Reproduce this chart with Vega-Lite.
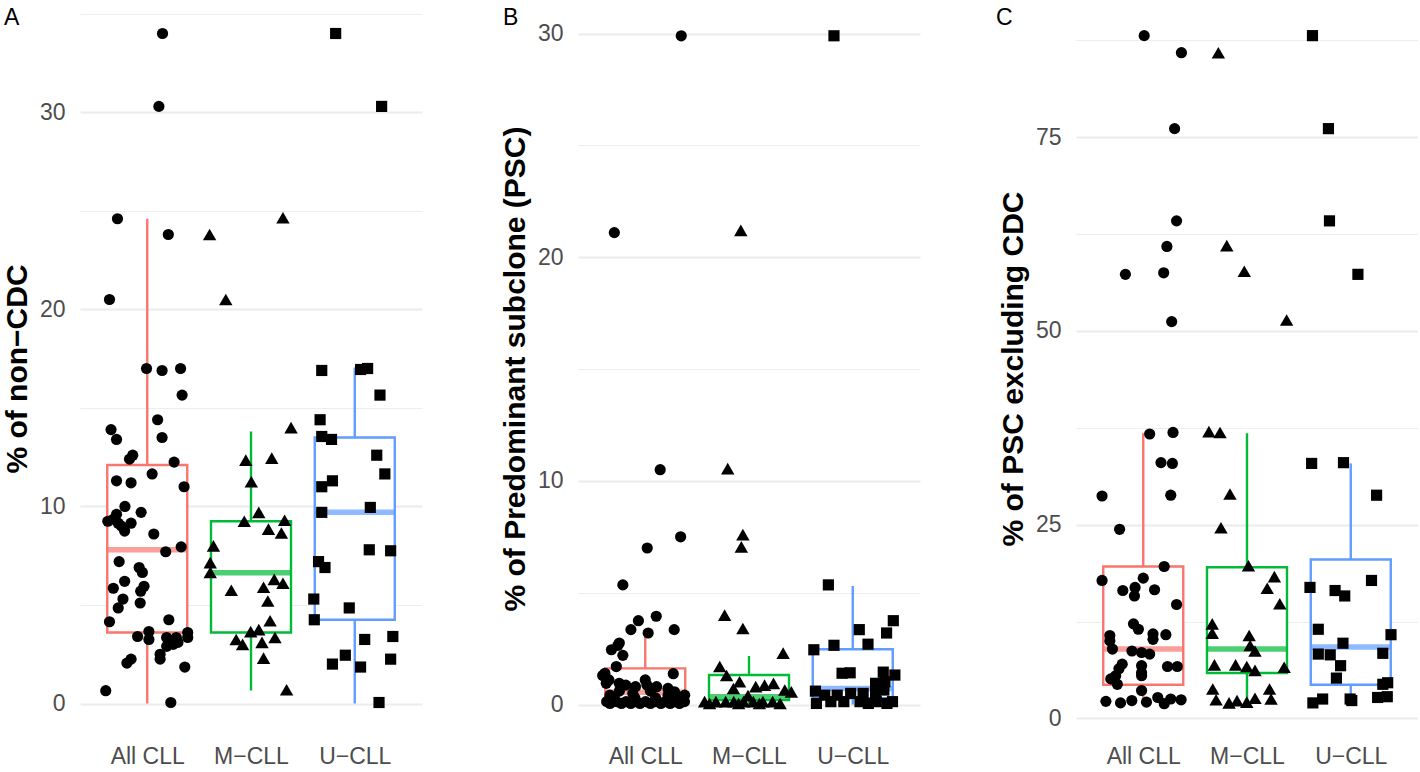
{
  "$schema": "https://vega.github.io/schema/vega-lite/v6.json",
  "padding": {"left": 2, "top": 0, "right": 0, "bottom": 0},
  "background": "white",
  "spacing": 156,
  "bounds": "flush",
  "datasets": {
    "box": [
      {"p": "A", "g": "All CLL", "x": 1, "lo": 0, "q1": 3.6, "med": 7.8, "q3": 12.1, "hi": 24.6},
      {"p": "A", "g": "M-CLL", "x": 2, "lo": 0.66, "q1": 3.6, "med": 6.63, "q3": 9.25, "hi": 13.8},
      {"p": "A", "g": "U-CLL", "x": 3, "lo": 0, "q1": 4.25, "med": 9.7, "q3": 13.5, "hi": 17.05},
      {"p": "B", "g": "All CLL", "x": 1, "lo": 0, "q1": 0.22, "med": 0.55, "q3": 1.62, "hi": 3.33},
      {"p": "B", "g": "M-CLL", "x": 2, "lo": 0, "q1": 0.2, "med": 0.35, "q3": 1.32, "hi": 2.17},
      {"p": "B", "g": "U-CLL", "x": 3, "lo": 0, "q1": 0.28, "med": 0.72, "q3": 2.47, "hi": 5.3},
      {"p": "C", "g": "All CLL", "x": 1, "lo": 1.86, "q1": 4.35, "med": 8.95, "q3": 19.6, "hi": 36.8},
      {"p": "C", "g": "M-CLL", "x": 2, "lo": 1.86, "q1": 5.86, "med": 8.95, "q3": 19.5, "hi": 36.8},
      {"p": "C", "g": "U-CLL", "x": 3, "lo": 2.07, "q1": 4.35, "med": 9.2, "q3": 20.5, "hi": 32.9}
    ],
    "pts": [
      {"p": "A", "g": "All CLL", "x": 1.147, "y": 34.0},
      {"p": "A", "g": "All CLL", "x": 1.112, "y": 30.3},
      {"p": "A", "g": "All CLL", "x": 0.713, "y": 24.6},
      {"p": "A", "g": "All CLL", "x": 1.203, "y": 23.8},
      {"p": "A", "g": "All CLL", "x": 0.636, "y": 20.5},
      {"p": "A", "g": "All CLL", "x": 0.993, "y": 17.0},
      {"p": "A", "g": "All CLL", "x": 1.143, "y": 16.9},
      {"p": "A", "g": "All CLL", "x": 1.321, "y": 17.0},
      {"p": "A", "g": "All CLL", "x": 1.336, "y": 15.65},
      {"p": "A", "g": "All CLL", "x": 1.1, "y": 14.4},
      {"p": "A", "g": "All CLL", "x": 0.651, "y": 13.9},
      {"p": "A", "g": "All CLL", "x": 0.704, "y": 13.4},
      {"p": "A", "g": "All CLL", "x": 1.143, "y": 13.5},
      {"p": "A", "g": "All CLL", "x": 0.86, "y": 12.6},
      {"p": "A", "g": "All CLL", "x": 0.829, "y": 12.4},
      {"p": "A", "g": "All CLL", "x": 1.259, "y": 12.25},
      {"p": "A", "g": "All CLL", "x": 1.047, "y": 11.65},
      {"p": "A", "g": "All CLL", "x": 0.704, "y": 11.3},
      {"p": "A", "g": "All CLL", "x": 0.844, "y": 11.2},
      {"p": "A", "g": "All CLL", "x": 1.355, "y": 11.0},
      {"p": "A", "g": "All CLL", "x": 0.785, "y": 10.0},
      {"p": "A", "g": "All CLL", "x": 0.941, "y": 9.7},
      {"p": "A", "g": "All CLL", "x": 0.704, "y": 9.6},
      {"p": "A", "g": "All CLL", "x": 0.62, "y": 9.25},
      {"p": "A", "g": "All CLL", "x": 0.673, "y": 9.35},
      {"p": "A", "g": "All CLL", "x": 0.72, "y": 9.15},
      {"p": "A", "g": "All CLL", "x": 0.751, "y": 9.0},
      {"p": "A", "g": "All CLL", "x": 0.844, "y": 9.15},
      {"p": "A", "g": "All CLL", "x": 0.782, "y": 8.75},
      {"p": "A", "g": "All CLL", "x": 1.063, "y": 8.6},
      {"p": "A", "g": "All CLL", "x": 1.327, "y": 7.95},
      {"p": "A", "g": "All CLL", "x": 1.178, "y": 7.7},
      {"p": "A", "g": "All CLL", "x": 0.729, "y": 7.2},
      {"p": "A", "g": "All CLL", "x": 0.922, "y": 6.9},
      {"p": "A", "g": "All CLL", "x": 0.953, "y": 6.65},
      {"p": "A", "g": "All CLL", "x": 0.782, "y": 6.2},
      {"p": "A", "g": "All CLL", "x": 0.673, "y": 5.85},
      {"p": "A", "g": "All CLL", "x": 0.969, "y": 5.95},
      {"p": "A", "g": "All CLL", "x": 0.937, "y": 5.7},
      {"p": "A", "g": "All CLL", "x": 0.766, "y": 5.3},
      {"p": "A", "g": "All CLL", "x": 0.72, "y": 4.85},
      {"p": "A", "g": "All CLL", "x": 0.932, "y": 5.1},
      {"p": "A", "g": "All CLL", "x": 0.636, "y": 4.15},
      {"p": "A", "g": "All CLL", "x": 1.208, "y": 4.25},
      {"p": "A", "g": "All CLL", "x": 1.016, "y": 3.65},
      {"p": "A", "g": "All CLL", "x": 0.907, "y": 3.4},
      {"p": "A", "g": "All CLL", "x": 1.016, "y": 3.25},
      {"p": "A", "g": "All CLL", "x": 1.187, "y": 3.35},
      {"p": "A", "g": "All CLL", "x": 1.39, "y": 3.6},
      {"p": "A", "g": "All CLL", "x": 1.28, "y": 3.35},
      {"p": "A", "g": "All CLL", "x": 1.39, "y": 3.35},
      {"p": "A", "g": "All CLL", "x": 1.187, "y": 2.9},
      {"p": "A", "g": "All CLL", "x": 1.25, "y": 3.0},
      {"p": "A", "g": "All CLL", "x": 1.296, "y": 3.1},
      {"p": "A", "g": "All CLL", "x": 1.124, "y": 2.5},
      {"p": "A", "g": "All CLL", "x": 1.124, "y": 2.25},
      {"p": "A", "g": "All CLL", "x": 0.844, "y": 2.25},
      {"p": "A", "g": "All CLL", "x": 0.804, "y": 2.05},
      {"p": "A", "g": "All CLL", "x": 1.362, "y": 1.85},
      {"p": "A", "g": "All CLL", "x": 0.6, "y": 0.65},
      {"p": "A", "g": "All CLL", "x": 1.227, "y": 0.05},
      {"p": "A", "g": "M-CLL", "x": 1.601, "y": 23.8},
      {"p": "A", "g": "M-CLL", "x": 2.308, "y": 24.65},
      {"p": "A", "g": "M-CLL", "x": 1.757, "y": 20.5},
      {"p": "A", "g": "M-CLL", "x": 2.386, "y": 14.0},
      {"p": "A", "g": "M-CLL", "x": 1.95, "y": 12.35},
      {"p": "A", "g": "M-CLL", "x": 2.2, "y": 12.45},
      {"p": "A", "g": "M-CLL", "x": 2.003, "y": 11.25},
      {"p": "A", "g": "M-CLL", "x": 1.935, "y": 9.25},
      {"p": "A", "g": "M-CLL", "x": 2.075, "y": 9.7},
      {"p": "A", "g": "M-CLL", "x": 2.324, "y": 9.3},
      {"p": "A", "g": "M-CLL", "x": 2.168, "y": 8.85},
      {"p": "A", "g": "M-CLL", "x": 2.293, "y": 8.65},
      {"p": "A", "g": "M-CLL", "x": 1.638, "y": 8.0},
      {"p": "A", "g": "M-CLL", "x": 1.607, "y": 7.15},
      {"p": "A", "g": "M-CLL", "x": 1.607, "y": 6.65},
      {"p": "A", "g": "M-CLL", "x": 2.224, "y": 6.3},
      {"p": "A", "g": "M-CLL", "x": 2.308, "y": 6.1},
      {"p": "A", "g": "M-CLL", "x": 2.121, "y": 5.9},
      {"p": "A", "g": "M-CLL", "x": 1.81, "y": 5.75},
      {"p": "A", "g": "M-CLL", "x": 2.162, "y": 5.2},
      {"p": "A", "g": "M-CLL", "x": 2.184, "y": 4.2},
      {"p": "A", "g": "M-CLL", "x": 1.997, "y": 3.65},
      {"p": "A", "g": "M-CLL", "x": 2.075, "y": 3.75},
      {"p": "A", "g": "M-CLL", "x": 1.857, "y": 3.25},
      {"p": "A", "g": "M-CLL", "x": 1.919, "y": 3.0},
      {"p": "A", "g": "M-CLL", "x": 2.106, "y": 3.1},
      {"p": "A", "g": "M-CLL", "x": 2.231, "y": 3.35},
      {"p": "A", "g": "M-CLL", "x": 2.121, "y": 2.3},
      {"p": "A", "g": "M-CLL", "x": 2.343, "y": 0.7},
      {"p": "A", "g": "U-CLL", "x": 2.816, "y": 34.0},
      {"p": "A", "g": "U-CLL", "x": 3.259, "y": 30.3},
      {"p": "A", "g": "U-CLL", "x": 2.682, "y": 16.9},
      {"p": "A", "g": "U-CLL", "x": 3.056, "y": 16.95},
      {"p": "A", "g": "U-CLL", "x": 3.124, "y": 17.0},
      {"p": "A", "g": "U-CLL", "x": 3.243, "y": 15.65},
      {"p": "A", "g": "U-CLL", "x": 2.666, "y": 14.4},
      {"p": "A", "g": "U-CLL", "x": 2.682, "y": 13.55},
      {"p": "A", "g": "U-CLL", "x": 2.776, "y": 13.4},
      {"p": "A", "g": "U-CLL", "x": 3.212, "y": 12.6},
      {"p": "A", "g": "U-CLL", "x": 3.29, "y": 11.65},
      {"p": "A", "g": "U-CLL", "x": 2.785, "y": 11.3},
      {"p": "A", "g": "U-CLL", "x": 2.682, "y": 11.0},
      {"p": "A", "g": "U-CLL", "x": 3.15, "y": 9.95},
      {"p": "A", "g": "U-CLL", "x": 2.682, "y": 9.7},
      {"p": "A", "g": "U-CLL", "x": 3.14, "y": 7.8},
      {"p": "A", "g": "U-CLL", "x": 3.346, "y": 7.75},
      {"p": "A", "g": "U-CLL", "x": 2.651, "y": 7.2},
      {"p": "A", "g": "U-CLL", "x": 2.713, "y": 6.9},
      {"p": "A", "g": "U-CLL", "x": 2.605, "y": 5.3},
      {"p": "A", "g": "U-CLL", "x": 2.947, "y": 4.85},
      {"p": "A", "g": "U-CLL", "x": 2.61, "y": 4.25},
      {"p": "A", "g": "U-CLL", "x": 3.096, "y": 3.25},
      {"p": "A", "g": "U-CLL", "x": 3.367, "y": 3.4},
      {"p": "A", "g": "U-CLL", "x": 2.909, "y": 2.45},
      {"p": "A", "g": "U-CLL", "x": 2.785, "y": 2.0},
      {"p": "A", "g": "U-CLL", "x": 3.056, "y": 1.85},
      {"p": "A", "g": "U-CLL", "x": 3.346, "y": 2.25},
      {"p": "A", "g": "U-CLL", "x": 3.234, "y": 0.05},
      {"p": "B", "g": "All CLL", "x": 1.347, "y": 29.9},
      {"p": "B", "g": "All CLL", "x": 0.702, "y": 21.1},
      {"p": "B", "g": "All CLL", "x": 1.144, "y": 10.5},
      {"p": "B", "g": "All CLL", "x": 1.341, "y": 7.5},
      {"p": "B", "g": "All CLL", "x": 1.019, "y": 7.0},
      {"p": "B", "g": "All CLL", "x": 0.784, "y": 5.35},
      {"p": "B", "g": "All CLL", "x": 0.934, "y": 3.75},
      {"p": "B", "g": "All CLL", "x": 0.862, "y": 3.35},
      {"p": "B", "g": "All CLL", "x": 1.106, "y": 3.95},
      {"p": "B", "g": "All CLL", "x": 1.028, "y": 3.2},
      {"p": "B", "g": "All CLL", "x": 1.279, "y": 3.35},
      {"p": "B", "g": "All CLL", "x": 0.737, "y": 2.65},
      {"p": "B", "g": "All CLL", "x": 0.674, "y": 2.45},
      {"p": "B", "g": "All CLL", "x": 0.784, "y": 2.2},
      {"p": "B", "g": "All CLL", "x": 0.75, "y": 2.75},
      {"p": "B", "g": "All CLL", "x": 0.721, "y": 1.7},
      {"p": "B", "g": "All CLL", "x": 0.611, "y": 1.4},
      {"p": "B", "g": "All CLL", "x": 1.27, "y": 1.38},
      {"p": "B", "g": "All CLL", "x": 0.59, "y": 1.3},
      {"p": "B", "g": "All CLL", "x": 0.624, "y": 0.95},
      {"p": "B", "g": "All CLL", "x": 0.749, "y": 0.95},
      {"p": "B", "g": "All CLL", "x": 0.812, "y": 0.87},
      {"p": "B", "g": "All CLL", "x": 0.906, "y": 0.8},
      {"p": "B", "g": "All CLL", "x": 1.016, "y": 0.87},
      {"p": "B", "g": "All CLL", "x": 1.11, "y": 0.8},
      {"p": "B", "g": "All CLL", "x": 1.219, "y": 0.72},
      {"p": "B", "g": "All CLL", "x": 1.282, "y": 0.57},
      {"p": "B", "g": "All CLL", "x": 0.628, "y": 0.13},
      {"p": "B", "g": "All CLL", "x": 0.722, "y": 0.13},
      {"p": "B", "g": "All CLL", "x": 0.815, "y": 0.13},
      {"p": "B", "g": "All CLL", "x": 0.909, "y": 0.13},
      {"p": "B", "g": "All CLL", "x": 1.003, "y": 0.13},
      {"p": "B", "g": "All CLL", "x": 1.097, "y": 0.13},
      {"p": "B", "g": "All CLL", "x": 1.191, "y": 0.13},
      {"p": "B", "g": "All CLL", "x": 1.285, "y": 0.13},
      {"p": "B", "g": "All CLL", "x": 1.378, "y": 0.13},
      {"p": "B", "g": "All CLL", "x": 0.66, "y": 0.42},
      {"p": "B", "g": "All CLL", "x": 1.22, "y": 0.42},
      {"p": "B", "g": "All CLL", "x": 1.38, "y": 0.42},
      {"p": "B", "g": "All CLL", "x": 0.66, "y": 0.05},
      {"p": "B", "g": "All CLL", "x": 0.77, "y": 0.05},
      {"p": "B", "g": "All CLL", "x": 0.86, "y": 0.05},
      {"p": "B", "g": "All CLL", "x": 0.95, "y": 0.05},
      {"p": "B", "g": "All CLL", "x": 1.05, "y": 0.05},
      {"p": "B", "g": "All CLL", "x": 1.15, "y": 0.05},
      {"p": "B", "g": "All CLL", "x": 1.24, "y": 0.05},
      {"p": "B", "g": "All CLL", "x": 1.33, "y": 0.05},
      {"p": "B", "g": "All CLL", "x": 0.7, "y": 0.3},
      {"p": "B", "g": "All CLL", "x": 0.9, "y": 0.3},
      {"p": "B", "g": "All CLL", "x": 1.1, "y": 0.3},
      {"p": "B", "g": "All CLL", "x": 1.3, "y": 0.3},
      {"p": "B", "g": "All CLL", "x": 0.65, "y": 1.1},
      {"p": "B", "g": "All CLL", "x": 1.0, "y": 1.1},
      {"p": "B", "g": "All CLL", "x": 0.75, "y": 0.6},
      {"p": "B", "g": "All CLL", "x": 1.05, "y": 0.6},
      {"p": "B", "g": "All CLL", "x": 0.88, "y": 0.5},
      {"p": "B", "g": "M-CLL", "x": 1.921, "y": 21.2},
      {"p": "B", "g": "M-CLL", "x": 1.795, "y": 10.55},
      {"p": "B", "g": "M-CLL", "x": 1.941, "y": 7.6},
      {"p": "B", "g": "M-CLL", "x": 1.926, "y": 7.05},
      {"p": "B", "g": "M-CLL", "x": 1.765, "y": 4.0},
      {"p": "B", "g": "M-CLL", "x": 1.941, "y": 3.4},
      {"p": "B", "g": "M-CLL", "x": 2.329, "y": 2.3},
      {"p": "B", "g": "M-CLL", "x": 1.718, "y": 1.7},
      {"p": "B", "g": "M-CLL", "x": 1.784, "y": 1.3},
      {"p": "B", "g": "M-CLL", "x": 1.909, "y": 1.02},
      {"p": "B", "g": "M-CLL", "x": 2.065, "y": 0.8},
      {"p": "B", "g": "M-CLL", "x": 2.236, "y": 0.95},
      {"p": "B", "g": "M-CLL", "x": 2.345, "y": 0.65},
      {"p": "B", "g": "M-CLL", "x": 2.408, "y": 0.57},
      {"p": "B", "g": "M-CLL", "x": 1.85, "y": 0.72},
      {"p": "B", "g": "M-CLL", "x": 2.15, "y": 0.87},
      {"p": "B", "g": "M-CLL", "x": 1.572, "y": 0.13},
      {"p": "B", "g": "M-CLL", "x": 1.681, "y": 0.13},
      {"p": "B", "g": "M-CLL", "x": 1.775, "y": 0.13},
      {"p": "B", "g": "M-CLL", "x": 1.853, "y": 0.13},
      {"p": "B", "g": "M-CLL", "x": 1.947, "y": 0.13},
      {"p": "B", "g": "M-CLL", "x": 2.041, "y": 0.13},
      {"p": "B", "g": "M-CLL", "x": 2.134, "y": 0.13},
      {"p": "B", "g": "M-CLL", "x": 2.228, "y": 0.13},
      {"p": "B", "g": "M-CLL", "x": 1.62, "y": 0.05},
      {"p": "B", "g": "M-CLL", "x": 1.9, "y": 0.05},
      {"p": "B", "g": "M-CLL", "x": 2.1, "y": 0.05},
      {"p": "B", "g": "M-CLL", "x": 2.3, "y": 0.05},
      {"p": "B", "g": "M-CLL", "x": 1.99, "y": 0.4},
      {"p": "B", "g": "U-CLL", "x": 2.819, "y": 29.9},
      {"p": "B", "g": "U-CLL", "x": 2.765, "y": 5.35},
      {"p": "B", "g": "U-CLL", "x": 3.391, "y": 3.75},
      {"p": "B", "g": "U-CLL", "x": 3.063, "y": 3.35},
      {"p": "B", "g": "U-CLL", "x": 3.326, "y": 3.2},
      {"p": "B", "g": "U-CLL", "x": 3.147, "y": 2.7},
      {"p": "B", "g": "U-CLL", "x": 2.625, "y": 2.45},
      {"p": "B", "g": "U-CLL", "x": 2.819, "y": 2.65},
      {"p": "B", "g": "U-CLL", "x": 2.897, "y": 1.4},
      {"p": "B", "g": "U-CLL", "x": 2.975, "y": 1.42},
      {"p": "B", "g": "U-CLL", "x": 3.294, "y": 1.45},
      {"p": "B", "g": "U-CLL", "x": 3.406, "y": 1.32},
      {"p": "B", "g": "U-CLL", "x": 3.22, "y": 0.95},
      {"p": "B", "g": "U-CLL", "x": 3.31, "y": 1.02},
      {"p": "B", "g": "U-CLL", "x": 2.64, "y": 0.6},
      {"p": "B", "g": "U-CLL", "x": 2.73, "y": 0.42},
      {"p": "B", "g": "U-CLL", "x": 2.85, "y": 0.42},
      {"p": "B", "g": "U-CLL", "x": 2.98, "y": 0.5},
      {"p": "B", "g": "U-CLL", "x": 3.1, "y": 0.5},
      {"p": "B", "g": "U-CLL", "x": 3.22, "y": 0.5},
      {"p": "B", "g": "U-CLL", "x": 3.3, "y": 0.65},
      {"p": "B", "g": "U-CLL", "x": 2.789, "y": 0.13},
      {"p": "B", "g": "U-CLL", "x": 2.914, "y": 0.13},
      {"p": "B", "g": "U-CLL", "x": 3.07, "y": 0.13},
      {"p": "B", "g": "U-CLL", "x": 3.227, "y": 0.13},
      {"p": "B", "g": "U-CLL", "x": 3.383, "y": 0.13},
      {"p": "B", "g": "U-CLL", "x": 2.65, "y": 0.05},
      {"p": "B", "g": "U-CLL", "x": 3.15, "y": 0.05},
      {"p": "B", "g": "U-CLL", "x": 3.33, "y": 0.05},
      {"p": "C", "g": "All CLL", "x": 1.009, "y": 88.1},
      {"p": "C", "g": "All CLL", "x": 1.368, "y": 85.9},
      {"p": "C", "g": "All CLL", "x": 1.302, "y": 76.1},
      {"p": "C", "g": "All CLL", "x": 1.321, "y": 64.2},
      {"p": "C", "g": "All CLL", "x": 1.228, "y": 60.9},
      {"p": "C", "g": "All CLL", "x": 0.828, "y": 57.3},
      {"p": "C", "g": "All CLL", "x": 1.197, "y": 57.5},
      {"p": "C", "g": "All CLL", "x": 1.274, "y": 51.2},
      {"p": "C", "g": "All CLL", "x": 1.062, "y": 36.7},
      {"p": "C", "g": "All CLL", "x": 1.287, "y": 36.9},
      {"p": "C", "g": "All CLL", "x": 1.171, "y": 33.0},
      {"p": "C", "g": "All CLL", "x": 1.281, "y": 32.9},
      {"p": "C", "g": "All CLL", "x": 0.603, "y": 28.7},
      {"p": "C", "g": "All CLL", "x": 1.265, "y": 28.8},
      {"p": "C", "g": "All CLL", "x": 0.772, "y": 24.4},
      {"p": "C", "g": "All CLL", "x": 1.202, "y": 19.6},
      {"p": "C", "g": "All CLL", "x": 0.603, "y": 17.8},
      {"p": "C", "g": "All CLL", "x": 1.0, "y": 18.1},
      {"p": "C", "g": "All CLL", "x": 0.803, "y": 16.5},
      {"p": "C", "g": "All CLL", "x": 0.921, "y": 16.9},
      {"p": "C", "g": "All CLL", "x": 0.915, "y": 15.8},
      {"p": "C", "g": "All CLL", "x": 1.109, "y": 16.6},
      {"p": "C", "g": "All CLL", "x": 1.321, "y": 14.7},
      {"p": "C", "g": "All CLL", "x": 0.906, "y": 12.2},
      {"p": "C", "g": "All CLL", "x": 0.953, "y": 11.5},
      {"p": "C", "g": "All CLL", "x": 0.678, "y": 10.7},
      {"p": "C", "g": "All CLL", "x": 0.678, "y": 10.0},
      {"p": "C", "g": "All CLL", "x": 1.094, "y": 10.9},
      {"p": "C", "g": "All CLL", "x": 1.094, "y": 10.2},
      {"p": "C", "g": "All CLL", "x": 1.218, "y": 10.8},
      {"p": "C", "g": "All CLL", "x": 0.703, "y": 8.95},
      {"p": "C", "g": "All CLL", "x": 0.891, "y": 8.7},
      {"p": "C", "g": "All CLL", "x": 0.984, "y": 8.5},
      {"p": "C", "g": "All CLL", "x": 1.062, "y": 8.3},
      {"p": "C", "g": "All CLL", "x": 0.797, "y": 7.0},
      {"p": "C", "g": "All CLL", "x": 0.766, "y": 6.4},
      {"p": "C", "g": "All CLL", "x": 0.734, "y": 5.5},
      {"p": "C", "g": "All CLL", "x": 0.687, "y": 5.1},
      {"p": "C", "g": "All CLL", "x": 0.984, "y": 6.8},
      {"p": "C", "g": "All CLL", "x": 0.984, "y": 5.9},
      {"p": "C", "g": "All CLL", "x": 0.984, "y": 5.5},
      {"p": "C", "g": "All CLL", "x": 1.234, "y": 6.7},
      {"p": "C", "g": "All CLL", "x": 1.328, "y": 6.7},
      {"p": "C", "g": "All CLL", "x": 0.75, "y": 4.4},
      {"p": "C", "g": "All CLL", "x": 0.984, "y": 3.6},
      {"p": "C", "g": "All CLL", "x": 0.64, "y": 2.2},
      {"p": "C", "g": "All CLL", "x": 0.781, "y": 2.0},
      {"p": "C", "g": "All CLL", "x": 0.89, "y": 2.3},
      {"p": "C", "g": "All CLL", "x": 1.031, "y": 2.1},
      {"p": "C", "g": "All CLL", "x": 1.14, "y": 2.7},
      {"p": "C", "g": "All CLL", "x": 1.202, "y": 1.9},
      {"p": "C", "g": "All CLL", "x": 1.265, "y": 2.5},
      {"p": "C", "g": "All CLL", "x": 1.365, "y": 2.4},
      {"p": "C", "g": "M-CLL", "x": 1.724, "y": 85.9},
      {"p": "C", "g": "M-CLL", "x": 1.805, "y": 61.0},
      {"p": "C", "g": "M-CLL", "x": 1.974, "y": 57.7},
      {"p": "C", "g": "M-CLL", "x": 2.382, "y": 51.4},
      {"p": "C", "g": "M-CLL", "x": 1.633, "y": 37.0},
      {"p": "C", "g": "M-CLL", "x": 1.74, "y": 36.9},
      {"p": "C", "g": "M-CLL", "x": 1.836, "y": 28.95},
      {"p": "C", "g": "M-CLL", "x": 1.749, "y": 24.6},
      {"p": "C", "g": "M-CLL", "x": 2.014, "y": 19.7},
      {"p": "C", "g": "M-CLL", "x": 2.264, "y": 18.3},
      {"p": "C", "g": "M-CLL", "x": 2.195, "y": 16.8},
      {"p": "C", "g": "M-CLL", "x": 2.316, "y": 14.8},
      {"p": "C", "g": "M-CLL", "x": 1.665, "y": 12.2},
      {"p": "C", "g": "M-CLL", "x": 1.665, "y": 11.0},
      {"p": "C", "g": "M-CLL", "x": 2.021, "y": 10.7},
      {"p": "C", "g": "M-CLL", "x": 2.03, "y": 9.4},
      {"p": "C", "g": "M-CLL", "x": 2.077, "y": 8.7},
      {"p": "C", "g": "M-CLL", "x": 1.686, "y": 6.9},
      {"p": "C", "g": "M-CLL", "x": 1.89, "y": 6.9},
      {"p": "C", "g": "M-CLL", "x": 1.998, "y": 6.7},
      {"p": "C", "g": "M-CLL", "x": 2.077, "y": 6.2},
      {"p": "C", "g": "M-CLL", "x": 2.358, "y": 6.6},
      {"p": "C", "g": "M-CLL", "x": 1.67, "y": 3.8},
      {"p": "C", "g": "M-CLL", "x": 2.217, "y": 3.8},
      {"p": "C", "g": "M-CLL", "x": 1.702, "y": 2.4},
      {"p": "C", "g": "M-CLL", "x": 1.827, "y": 2.0},
      {"p": "C", "g": "M-CLL", "x": 1.904, "y": 2.3},
      {"p": "C", "g": "M-CLL", "x": 1.998, "y": 2.1},
      {"p": "C", "g": "M-CLL", "x": 2.077, "y": 2.6},
      {"p": "C", "g": "M-CLL", "x": 2.232, "y": 2.5},
      {"p": "C", "g": "U-CLL", "x": 2.631, "y": 88.1},
      {"p": "C", "g": "U-CLL", "x": 2.785, "y": 76.1},
      {"p": "C", "g": "U-CLL", "x": 2.795, "y": 64.2},
      {"p": "C", "g": "U-CLL", "x": 3.069, "y": 57.3},
      {"p": "C", "g": "U-CLL", "x": 2.623, "y": 32.9},
      {"p": "C", "g": "U-CLL", "x": 2.93, "y": 33.0},
      {"p": "C", "g": "U-CLL", "x": 3.249, "y": 28.8},
      {"p": "C", "g": "U-CLL", "x": 2.607, "y": 16.9},
      {"p": "C", "g": "U-CLL", "x": 3.2, "y": 17.8},
      {"p": "C", "g": "U-CLL", "x": 2.849, "y": 16.5},
      {"p": "C", "g": "U-CLL", "x": 2.942, "y": 15.8},
      {"p": "C", "g": "U-CLL", "x": 2.687, "y": 11.5},
      {"p": "C", "g": "U-CLL", "x": 3.388, "y": 10.8},
      {"p": "C", "g": "U-CLL", "x": 2.925, "y": 9.7},
      {"p": "C", "g": "U-CLL", "x": 2.687, "y": 8.3},
      {"p": "C", "g": "U-CLL", "x": 2.802, "y": 8.2},
      {"p": "C", "g": "U-CLL", "x": 3.309, "y": 8.4},
      {"p": "C", "g": "U-CLL", "x": 2.902, "y": 6.8},
      {"p": "C", "g": "U-CLL", "x": 2.862, "y": 5.2},
      {"p": "C", "g": "U-CLL", "x": 3.309, "y": 4.4},
      {"p": "C", "g": "U-CLL", "x": 3.356, "y": 4.6},
      {"p": "C", "g": "U-CLL", "x": 2.635, "y": 2.0},
      {"p": "C", "g": "U-CLL", "x": 2.729, "y": 2.5},
      {"p": "C", "g": "U-CLL", "x": 2.994, "y": 2.5},
      {"p": "C", "g": "U-CLL", "x": 3.01, "y": 2.3},
      {"p": "C", "g": "U-CLL", "x": 3.259, "y": 2.7},
      {"p": "C", "g": "U-CLL", "x": 3.352, "y": 2.8}
    ]
  },
  "hconcat": [
    {
      "width": 342,
      "height": 737,
      "title": {"text": "A", "dx": -76, "offset": -30},
      "layer": [
        {
          "data": {"name": "box"},
          "transform": [{"filter": "datum.p === 'A'"}],
          "mark": {"type": "rule", "strokeWidth": 2.4},
          "encoding": {
            "x": {"field": "x", "type": "quantitative", "scale": {"domain": [0.4, 3.6], "nice": false, "zero": false}, "axis": {"values": [1, 2, 3], "labelExpr": "datum.value === 1 ? 'All CLL' : datum.value === 2 ? 'M−CLL' : 'U−CLL'", "title": null}},
            "y": {"field": "lo", "type": "quantitative", "title": "% of non−CDC", "scale": {"domain": [-1.7, 35.7], "nice": false, "zero": false}, "axis": {"values": [0, 5, 10, 15, 20, 25, 30, 35], "labelExpr": "datum.value % 10 === 0 ? datum.label : ''", "gridWidth": {"condition": {"test": "datum.value % 10 === 0", "value": 1.8}, "value": 0.9}}},
            "y2": {"field": "hi"},
            "color": {"field": "g", "type": "nominal", "scale": {"domain": ["All CLL", "M-CLL", "U-CLL"], "range": ["#F8766D", "#00BA38", "#619CFF"]}, "legend": null}
          }
        },
        {
          "data": {"name": "box"},
          "transform": [{"filter": "datum.p === 'A'"}],
          "mark": {"type": "bar", "width": 80, "fill": "white", "strokeWidth": 2.4},
          "encoding": {
            "x": {"field": "x", "type": "quantitative"},
            "y": {"field": "q1", "type": "quantitative", "title": "% of non−CDC"},
            "y2": {"field": "q3"},
            "stroke": {"field": "g", "type": "nominal", "scale": {"domain": ["All CLL", "M-CLL", "U-CLL"], "range": ["#F8766D", "#00BA38", "#619CFF"]}, "legend": null}
          }
        },
        {
          "data": {"name": "box"},
          "transform": [{"filter": "datum.p === 'A'"}],
          "mark": {"type": "tick", "orient": "horizontal", "size": 80, "thickness": 5.5},
          "encoding": {
            "x": {"field": "x", "type": "quantitative"},
            "y": {"field": "med", "type": "quantitative", "title": "% of non−CDC"},
            "color": {"field": "g", "type": "nominal", "legend": null}
          }
        },
        {
          "data": {"name": "pts"},
          "transform": [{"filter": "datum.p === 'A'"}],
          "mark": {"type": "point", "filled": true, "opacity": 1, "color": "black"},
          "encoding": {
            "x": {"field": "x", "type": "quantitative"},
            "y": {"field": "y", "type": "quantitative", "title": "% of non−CDC"},
            "shape": {"field": "g", "type": "nominal", "scale": {"domain": ["All CLL", "M-CLL", "U-CLL"], "range": ["circle", "triangle-up", "square"]}, "legend": null},
            "size": {"condition": {"test": "datum.g === 'M-CLL'", "value": 180}, "value": 125}
          }
        }
      ]
    },
    {
      "width": 342,
      "height": 737,
      "title": {"text": "B", "dx": -75, "offset": -30},
      "layer": [
        {
          "data": {"name": "box"},
          "transform": [{"filter": "datum.p === 'B'"}],
          "mark": {"type": "rule", "strokeWidth": 2.4},
          "encoding": {
            "x": {"field": "x", "type": "quantitative", "scale": {"domain": [0.4, 3.6], "nice": false, "zero": false}, "axis": {"values": [1, 2, 3], "labelExpr": "datum.value === 1 ? 'All CLL' : datum.value === 2 ? 'M−CLL' : 'U−CLL'", "title": null}},
            "y": {"field": "lo", "type": "quantitative", "title": "% of Predominant subclone (PSC)", "scale": {"domain": [-1.45, 31.5], "nice": false, "zero": false}, "axis": {"values": [0, 5, 10, 15, 20, 25, 30], "labelExpr": "datum.value % 10 === 0 ? datum.label : ''", "gridWidth": {"condition": {"test": "datum.value % 10 === 0", "value": 1.8}, "value": 0.9}}},
            "y2": {"field": "hi"},
            "color": {"field": "g", "type": "nominal", "scale": {"domain": ["All CLL", "M-CLL", "U-CLL"], "range": ["#F8766D", "#00BA38", "#619CFF"]}, "legend": null}
          }
        },
        {
          "data": {"name": "box"},
          "transform": [{"filter": "datum.p === 'B'"}],
          "mark": {"type": "bar", "width": 80, "fill": "white", "strokeWidth": 2.4},
          "encoding": {
            "x": {"field": "x", "type": "quantitative"},
            "y": {"field": "q1", "type": "quantitative", "title": "% of Predominant subclone (PSC)"},
            "y2": {"field": "q3"},
            "stroke": {"field": "g", "type": "nominal", "scale": {"domain": ["All CLL", "M-CLL", "U-CLL"], "range": ["#F8766D", "#00BA38", "#619CFF"]}, "legend": null}
          }
        },
        {
          "data": {"name": "box"},
          "transform": [{"filter": "datum.p === 'B'"}],
          "mark": {"type": "tick", "orient": "horizontal", "size": 80, "thickness": 5.5},
          "encoding": {
            "x": {"field": "x", "type": "quantitative"},
            "y": {"field": "med", "type": "quantitative", "title": "% of Predominant subclone (PSC)"},
            "color": {"field": "g", "type": "nominal", "legend": null}
          }
        },
        {
          "data": {"name": "pts"},
          "transform": [{"filter": "datum.p === 'B'"}],
          "mark": {"type": "point", "filled": true, "opacity": 1, "color": "black"},
          "encoding": {
            "x": {"field": "x", "type": "quantitative"},
            "y": {"field": "y", "type": "quantitative", "title": "% of Predominant subclone (PSC)"},
            "shape": {"field": "g", "type": "nominal", "scale": {"domain": ["All CLL", "M-CLL", "U-CLL"], "range": ["circle", "triangle-up", "square"]}, "legend": null},
            "size": {"condition": {"test": "datum.g === 'M-CLL'", "value": 180}, "value": 125}
          }
        }
      ]
    },
    {
      "width": 342,
      "height": 737,
      "title": {"text": "C", "dx": -80, "offset": -30},
      "layer": [
        {
          "data": {"name": "box"},
          "transform": [{"filter": "datum.p === 'C'"}],
          "mark": {"type": "rule", "strokeWidth": 2.4},
          "encoding": {
            "x": {"field": "x", "type": "quantitative", "scale": {"domain": [0.4, 3.6], "nice": false, "zero": false}, "axis": {"values": [1, 2, 3], "labelExpr": "datum.value === 1 ? 'All CLL' : datum.value === 2 ? 'M−CLL' : 'U−CLL'", "title": null}},
            "y": {"field": "lo", "type": "quantitative", "title": "% of PSC excluding CDC", "scale": {"domain": [-2.4, 92.7], "nice": false, "zero": false}, "axis": {"values": [0, 12.5, 25, 37.5, 50, 62.5, 75, 87.5], "labelExpr": "datum.value % 25 === 0 ? datum.label : ''", "gridWidth": {"condition": {"test": "datum.value % 25 === 0", "value": 1.8}, "value": 0.9}}},
            "y2": {"field": "hi"},
            "color": {"field": "g", "type": "nominal", "scale": {"domain": ["All CLL", "M-CLL", "U-CLL"], "range": ["#F8766D", "#00BA38", "#619CFF"]}, "legend": null}
          }
        },
        {
          "data": {"name": "box"},
          "transform": [{"filter": "datum.p === 'C'"}],
          "mark": {"type": "bar", "width": 80, "fill": "white", "strokeWidth": 2.4},
          "encoding": {
            "x": {"field": "x", "type": "quantitative"},
            "y": {"field": "q1", "type": "quantitative", "title": "% of PSC excluding CDC"},
            "y2": {"field": "q3"},
            "stroke": {"field": "g", "type": "nominal", "scale": {"domain": ["All CLL", "M-CLL", "U-CLL"], "range": ["#F8766D", "#00BA38", "#619CFF"]}, "legend": null}
          }
        },
        {
          "data": {"name": "box"},
          "transform": [{"filter": "datum.p === 'C'"}],
          "mark": {"type": "tick", "orient": "horizontal", "size": 80, "thickness": 5.5},
          "encoding": {
            "x": {"field": "x", "type": "quantitative"},
            "y": {"field": "med", "type": "quantitative", "title": "% of PSC excluding CDC"},
            "color": {"field": "g", "type": "nominal", "legend": null}
          }
        },
        {
          "data": {"name": "pts"},
          "transform": [{"filter": "datum.p === 'C'"}],
          "mark": {"type": "point", "filled": true, "opacity": 1, "color": "black"},
          "encoding": {
            "x": {"field": "x", "type": "quantitative"},
            "y": {"field": "y", "type": "quantitative", "title": "% of PSC excluding CDC"},
            "shape": {"field": "g", "type": "nominal", "scale": {"domain": ["All CLL", "M-CLL", "U-CLL"], "range": ["circle", "triangle-up", "square"]}, "legend": null},
            "size": {"condition": {"test": "datum.g === 'M-CLL'", "value": 180}, "value": 125}
          }
        }
      ]
    }
  ],
  "config": {
    "view": {"stroke": null},
    "font": "Liberation Sans",
    "title": {"anchor": "start", "frame": "group", "fontSize": 23, "fontWeight": "normal", "color": "black", "baseline": "alphabetic", "font": "Liberation Sans"},
    "axis": {"domain": false, "ticks": false, "labelFont": "Liberation Sans", "labelFontSize": 23, "labelColor": "#4D4D4D", "gridColor": "#EBEBEB", "titleFont": "Liberation Sans"},
    "axisY": {"labelPadding": 15, "titleFontSize": 30, "titleFontWeight": "bold", "titleColor": "black", "titlePadding": 7},
    "axisX": {"grid": false, "labelPadding": 8}
  }
}
